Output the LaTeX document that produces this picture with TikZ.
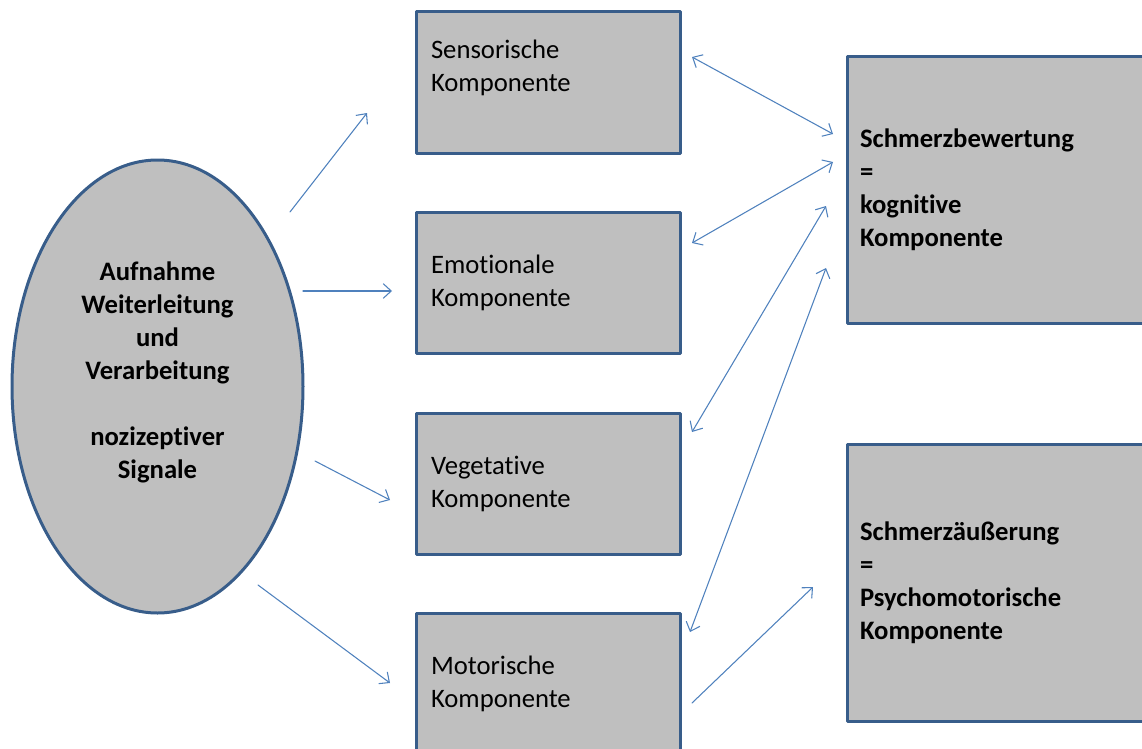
\documentclass[tikz,border=0pt]{standalone}
\usepackage{fontspec}
\setmainfont{Carlito}[Ligatures=NoCommon]
\usepackage{tikz}
\usetikzlibrary{arrows.meta,shapes.geometric}

\definecolor{rahmen}{HTML}{385D8A}
\definecolor{pfeil}{HTML}{4F81BD}
\definecolor{flaeche}{HTML}{BFBFBF}

\tikzset{
  komp/.style={rectangle,draw=rahmen,fill=flaeche,line width=2.25pt,
    minimum width=198pt,minimum height=105.75pt,text width=175.5pt,
    inner xsep=11.25pt,align=left,font=\fontsize{20}{24.75}\selectfont},
  gross/.style={rectangle,draw=rahmen,fill=flaeche,line width=2.25pt,
    text width=205.5pt,inner xsep=9.75pt,align=left,
    font=\bfseries\fontsize{20}{24.75}\selectfont},
  signal/.style={ellipse,draw=rahmen,fill=flaeche,line width=2.25pt,inner sep=0pt,
    minimum width=218.25pt,minimum height=339.75pt,align=center,
    font=\bfseries\fontsize{20}{24.75}\selectfont},
  pf/.style={draw=pfeil,line width=0.8pt},
}

\begin{document}
\begin{tikzpicture}[line cap=round,line join=round,>={Straight Barb[length=6pt,width=11pt]},x=0.75pt,y=-0.75pt]
        \useasboundingbox (0,0) rectangle (1142,749);
        \clip (0,0) rectangle (1142,749);
        % linke Ellipse
        \node[signal] (auf) at (157.5,386.5) {Aufnahme\\Weiterleitung\\und\\Verarbeitung\\[24.75pt]nozizeptiver\\Signale\\~};
        % mittlere Spalte
        \node[komp] (sens) at (548,82.5) {Sensorische\\Komponente\\~};
        \node[komp] (emo) at (548,282.5) {Emotionale\\Komponente};
        \node[komp] (veg) at (548,483.5) {Vegetative\\Komponente};
        \node[komp] (mot) at (548,683.5) {Motorische\\Komponente};
        % rechte Spalte
        \node[gross,minimum height=199.5pt] (bew) at (997,190) {Schmerzbewertung\\=\\kognitive\\Komponente};
        \node[gross,minimum height=207.75pt] (aeu) at (997,582.5) {Schmerzäußerung\\=\\Psychomotorische\\Komponente};
        % Pfeilenden
        \coordinate (aufS) at (290,212);
        \coordinate (sensA) at (367,113);
        \coordinate (aufE) at (303,291);
        \coordinate (emoA) at (392,291);
        \coordinate (aufV) at (315,461);
        \coordinate (vegA) at (390,500);
        \coordinate (aufM) at (258,585);
        \coordinate (motA) at (390,683);
        \coordinate (sensB) at (692,57);
        \coordinate (bew1) at (833,134);
        \coordinate (emoB) at (692,243);
        \coordinate (bew2) at (833,162);
        \coordinate (vegB) at (692,432);
        \coordinate (bew3) at (826,206);
        \coordinate (motB) at (690,632);
        \coordinate (bew4) at (826,268);
        \coordinate (motC) at (692,703);
        \coordinate (aeuA) at (813,587);
        % Pfeile
        \draw [pf,->] (aufS) -- (sensA);
        \draw [pf,->] (aufE) -- (emoA);
        \draw [pf,->] (aufV) -- (vegA);
        \draw [pf,->] (aufM) -- (motA);
        \draw [pf,<->] (sensB) -- (bew1);
        \draw [pf,<->] (emoB) -- (bew2);
        \draw [pf,<->] (vegB) -- (bew3);
        \draw [pf,<->] (motB) -- (bew4);
        \draw [pf,->] (motC) -- (aeuA);
    \end{tikzpicture}
\end{document}
